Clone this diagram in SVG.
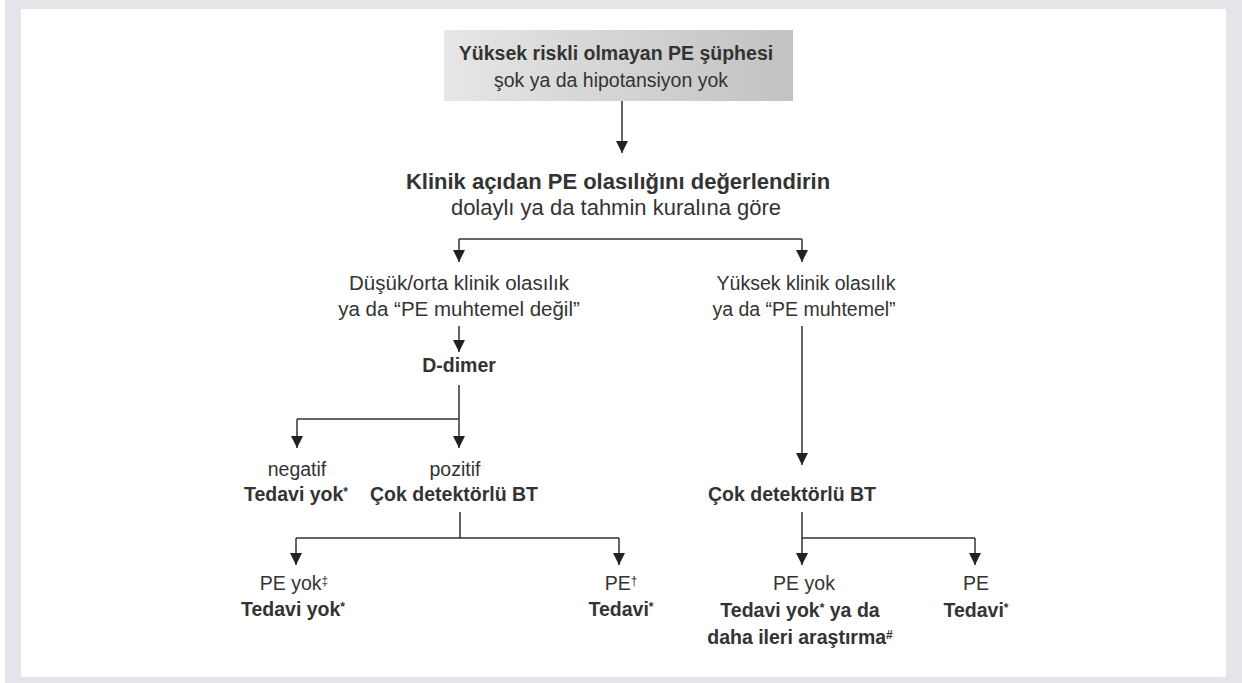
<svg xmlns="http://www.w3.org/2000/svg" width="1242" height="683" viewBox="0 0 1242 683">
<defs>
<linearGradient id="g" x1="0" y1="0" x2="1" y2="0">
<stop offset="0" stop-color="#e6e6e6"/>
<stop offset="1" stop-color="#c2c2c2"/>
</linearGradient>
<marker id="a" viewBox="0 0 12 12" refX="12" refY="6" markerWidth="12" markerHeight="12" markerUnits="userSpaceOnUse" orient="auto">
<path d="M0,0 L12,6 L0,12 Z" fill="#222"/>
</marker>
</defs>
<style>
text{font-family:"Liberation Sans",Arial,sans-serif;font-size:19.5px;fill:#333;text-anchor:middle}
.b{font-weight:bold}
.l{font-size:22px}
.m{font-size:20.5px}
.s{font-size:12px}
.c{fill:none;stroke:#333;stroke-width:1.5}
.ar{marker-end:url(#a)}
</style>
<rect x="0" y="0" width="1242" height="683" fill="#e4e5e8"/>
<rect x="0" y="0" width="5" height="683" fill="#ffffff"/>
<rect x="21" y="9" width="1205" height="668" fill="#ffffff"/>
<g id="connectors">
<path class="c ar" d="M622,101 V153"/>
<path class="c" d="M459,239 H802"/>
<path class="c ar" d="M459,239 V262"/>
<path class="c ar" d="M802,239 V262"/>
<path class="c ar" d="M459,326 V352"/>
<path class="c" d="M459,385 V419 M297,419 H459"/>
<path class="c ar" d="M297,419 V448"/>
<path class="c ar" d="M459,419 V448"/>
<path class="c" d="M460,512 V538 M296,538 H619"/>
<path class="c ar" d="M296,538 V565"/>
<path class="c ar" d="M619,538 V565"/>
<path class="c ar" d="M802,326 V465"/>
<path class="c" d="M802,512 V538 H975"/>
<path class="c ar" d="M802,538 V565"/>
<path class="c ar" d="M975,538 V565"/>
</g>
<g id="n1">
<rect x="444" y="30" width="349" height="71" fill="url(#g)"/>
<text class="b" x="616" y="60">Yüksek riskli olmayan PE şüphesi</text>
<text x="611" y="87">şok ya da hipotansiyon yok</text>
</g>
<g id="n2">
<text class="b l" x="618" y="189">Klinik açıdan PE olasılığını değerlendirin</text>
<text class="l" x="616" y="215">dolaylı ya da tahmin kuralına göre</text>
</g>
<g id="n3">
<text class="m" x="459" y="290">Düşük/orta klinik olasılık</text>
<text class="m" x="459" y="316">ya da “PE muhtemel değil”</text>
</g>
<g id="n4">
<text x="806" y="290">Yüksek klinik olasılık</text>
<text x="804" y="316">ya da “PE muhtemel”</text>
</g>
<g id="n5">
<text class="b" x="459" y="372">D-dimer</text>
</g>
<g id="n6">
<text x="297" y="476">negatif</text>
<text class="b" x="296" y="501">Tedavi yok<tspan class="s" baseline-shift="5">*</tspan></text>
</g>
<g id="n7">
<text x="455" y="476">pozitif</text>
<text class="b" x="454" y="501">Çok detektörlü BT</text>
</g>
<g id="n8">
<text class="b" x="792" y="501">Çok detektörlü BT</text>
</g>
<g id="n9">
<text x="294" y="590">PE yok<tspan class="s" baseline-shift="5">‡</tspan></text>
<text class="b" x="293" y="616">Tedavi yok<tspan class="s" baseline-shift="5">*</tspan></text>
</g>
<g id="n10">
<text x="621" y="590">PE<tspan class="s" baseline-shift="5">†</tspan></text>
<text class="b" x="621" y="616">Tedavi<tspan class="s" baseline-shift="5">*</tspan></text>
</g>
<g id="n11">
<text x="804" y="590">PE yok</text>
<text class="b" x="800" y="617">Tedavi yok<tspan class="s" baseline-shift="5">*</tspan> ya da</text>
<text class="b" x="800" y="644">daha ileri araştırma<tspan class="s" baseline-shift="5">#</tspan></text>
</g>
<g id="n12">
<text x="976" y="590">PE</text>
<text class="b" x="976" y="617">Tedavi<tspan class="s" baseline-shift="5">*</tspan></text>
</g>
</svg>
